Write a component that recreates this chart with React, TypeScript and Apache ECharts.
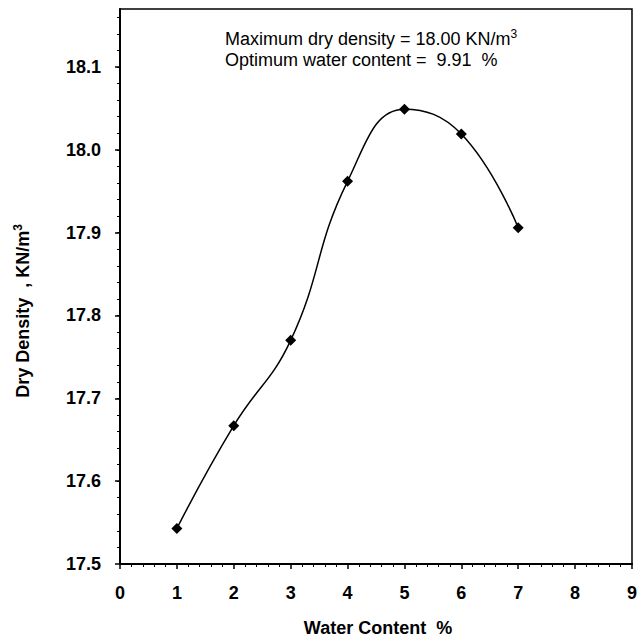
import React, { useEffect, useRef } from "react";
import * as echarts from "echarts";

const waterContent = [1, 2, 3, 4, 5, 6, 7];
const dryDensity = [17.543, 17.667, 17.77, 17.962, 18.049, 18.019, 17.906];
const yMajorTicks = [17.5, 17.6, 17.7, 17.8, 17.9, 18.0, 18.1];
const xTitle = "Water Content  %";
const yTitle = "Dry Density  , KN/m";
const noteLine1 = "Maximum dry density = 18.00 KN/m";
const noteLine2 = "Optimum water content =  9.91  %";

const yMinorTicks: number[] = [];
for (let i = 1; i <= 33; i++) {
  const v = Math.round((17.5 + i * 0.02) * 100) / 100;
  if (v < 18.17) yMinorTicks.push(v);
}

const FONT = "'Liberation Sans', Arial, Helvetica, sans-serif";

export default function App() {
  const ref = useRef<HTMLDivElement>(null);
  useEffect(() => {
    if (!ref.current) return;
    const chart = echarts.init(ref.current, null, { renderer: "svg" });
    chart.setOption({
      animation: false,
      backgroundColor: "#ffffff",
      grid: {
        left: 120,
        top: 9,
        right: 3,
        bottom: 78,
        show: true,
        borderColor: "#000",
        borderWidth: 1.5,
      },
      xAxis: {
        type: "value",
        min: 0,
        max: 9,
        interval: 1,
        axisLine: { show: true, onZero: false, lineStyle: { color: "#000", width: 2 } },
        axisTick: { show: true, length: 5, lineStyle: { color: "#000", width: 1.5 } },
        minorTick: { show: true, splitNumber: 5, length: 3, lineStyle: { color: "#000", width: 1 } },
        splitLine: { show: false },
        axisLabel: {
          color: "#000",
          fontFamily: FONT,
          fontWeight: "bold",
          fontSize: 18,
          margin: 20,
        },
      },
      yAxis: [
        {
          type: "value",
          min: 17.5,
          max: 18.17,
          position: "left",
          axisLine: { show: true, onZero: false, lineStyle: { color: "#000", width: 2 } },
          axisTick: {
            show: true,
            length: 5,
            customValues: yMajorTicks,
            lineStyle: { color: "#000", width: 1.5 },
          },
          splitLine: { show: false },
          axisLabel: {
            customValues: yMajorTicks,
            color: "#000",
            fontFamily: FONT,
            fontWeight: "bold",
            fontSize: 18,
            margin: 19,
            formatter: (v: number) => v.toFixed(1),
          },
        },
        {
          type: "value",
          min: 17.5,
          max: 18.17,
          position: "left",
          axisLine: { show: false },
          axisTick: {
            show: true,
            length: 3,
            customValues: yMinorTicks,
            lineStyle: { color: "#000", width: 1 },
          },
          splitLine: { show: false },
          axisLabel: { show: false },
        },
      ],
      series: [
        {
          type: "line",
          yAxisIndex: 0,
          data: waterContent.map((x, i) => [x, dryDensity[i]]),
          smooth: 0.45,
          symbol: "diamond",
          symbolSize: 11,
          itemStyle: { color: "#000" },
          lineStyle: { color: "#000", width: 1.5 },
        },
      ],
      graphic: [
        {
          type: "text",
          x: 225,
          y: 39,
          style: {
            text: noteLine1 + "{sup|3}",
            fontFamily: FONT,
            fontSize: 18,
            fill: "#000",
            verticalAlign: "middle",
            rich: {
              sup: { fontSize: 12, fontFamily: FONT, verticalAlign: "top", lineHeight: 22 },
            },
          },
        },
        {
          type: "text",
          x: 225,
          y: 60,
          style: {
            text: noteLine2,
            fontFamily: FONT,
            fontSize: 18,
            fill: "#000",
            verticalAlign: "middle",
          },
        },
        {
          type: "text",
          x: 378,
          y: 628,
          style: {
            text: xTitle,
            fontFamily: FONT,
            fontSize: 18,
            fontWeight: "bold",
            fill: "#000",
            align: "center",
            verticalAlign: "middle",
          },
        },
        {
          type: "text",
          x: 23,
          y: 311,
          rotation: Math.PI / 2,
          style: {
            text: yTitle + "{sup|3}",
            fontFamily: FONT,
            fontSize: 18,
            fontWeight: "bold",
            fill: "#000",
            align: "center",
            verticalAlign: "middle",
            rich: {
              sup: { fontSize: 12, fontFamily: FONT, fontWeight: "bold", verticalAlign: "top", lineHeight: 22 },
            },
          },
        },
      ],
    });
    return () => chart.dispose();
  }, []);
  return (
    <div
      ref={ref}
      style={{ position: "fixed", left: 0, top: 0, width: 640, height: 642, background: "#fff" }}
    />
  );
}
